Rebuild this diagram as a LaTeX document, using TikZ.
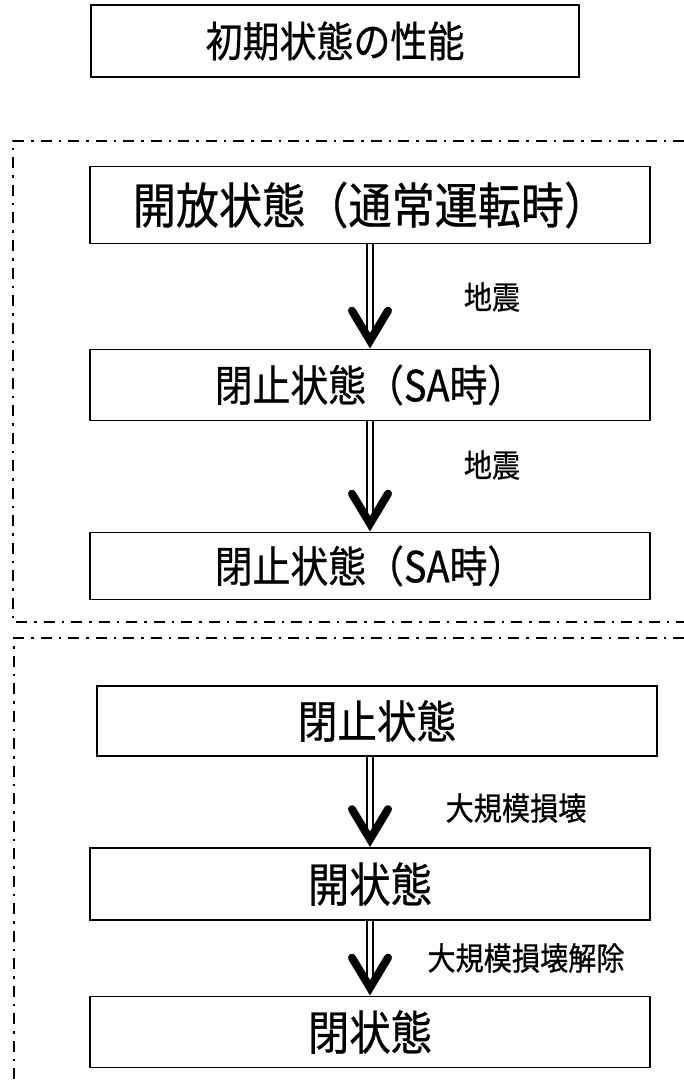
\documentclass[tikz,border=0pt]{standalone}
\usepackage{fontspec}
\newfontfamily\jpfont[FakeStretch=0.88, FakeBold=0.6]{Noto Sans CJK JP}
\usetikzlibrary{positioning}

\begin{document}
\begin{tikzpicture}[x=1pt, y=-1pt,
    box/.style={rectangle, draw, line width=1.6pt, inner sep=0pt, minimum width=560pt},
    shaft/.style={double, double distance=4pt, line width=1.6pt},
    barb/.style={line width=8pt, line cap=round, line join=miter},
    area/.style={line width=2pt, dash pattern=on 11pt off 7pt on 2.5pt off 7pt},
    lbl/.style={font={\jpfont\fontsize{32}{36}\selectfont}}]
    \useasboundingbox (0,0) rectangle (684,1083);

    % the two regions
    \draw[area] (684,141) -- (13,141) -- (13,622) -- (684,622);
    \draw[area] (684,638) -- (14,638) -- (14,1083);

    \node[box, minimum width=488pt, minimum height=72pt, font={\jpfont\fontsize{42}{46}\selectfont}] (init) at (335,41) {初期状態の性能};

    \node[box, minimum height=77pt, font={\jpfont\fontsize{49}{54}\selectfont}] (open) at (370,205) {開放状態（通常運転時）};
    \node[box, minimum height=71pt, font={\jpfont\fontsize{43}{48}\selectfont}] (sa1) at (370,385) {閉止状態（SA時）};
    \node[box, minimum height=67pt, font={\jpfont\fontsize{43}{48}\selectfont}] (sa2) at (370,566) {閉止状態（SA時）};

    \node[box, minimum height=70pt, font={\jpfont\fontsize{45}{50}\selectfont}] (shut) at (377,721) {閉止状態};
    \node[box, minimum height=72pt, font={\jpfont\fontsize{47}{52}\selectfont}] (opn) at (370,884) {開状態};
    \node[box, minimum height=71pt, font={\jpfont\fontsize{47}{52}\selectfont}] (cls) at (370,1032) {閉状態};

    \node[lbl] (q1) at (492,297) {地震};
    \node[lbl] (q2) at (492,465) {地震};
    \node[lbl] (dmg) at (516,808) {大規模損壊};
    \node[lbl] (rel) at (526,958) {大規模損壊解除};

    % double shaft with a heavy barb
    \foreach \a/\b in {open/sa1, sa1/sa2, shut/opn, opn/cls} {
        \draw[shaft] (\a.south -| \b.north) -- ([yshift=10pt]\b.north);
        \draw[barb] ([xshift=-18pt, yshift=38pt]\b.north) -- ([yshift=8pt]\b.north) -- ([xshift=18pt, yshift=38pt]\b.north);
    }
\end{tikzpicture}
\end{document}
